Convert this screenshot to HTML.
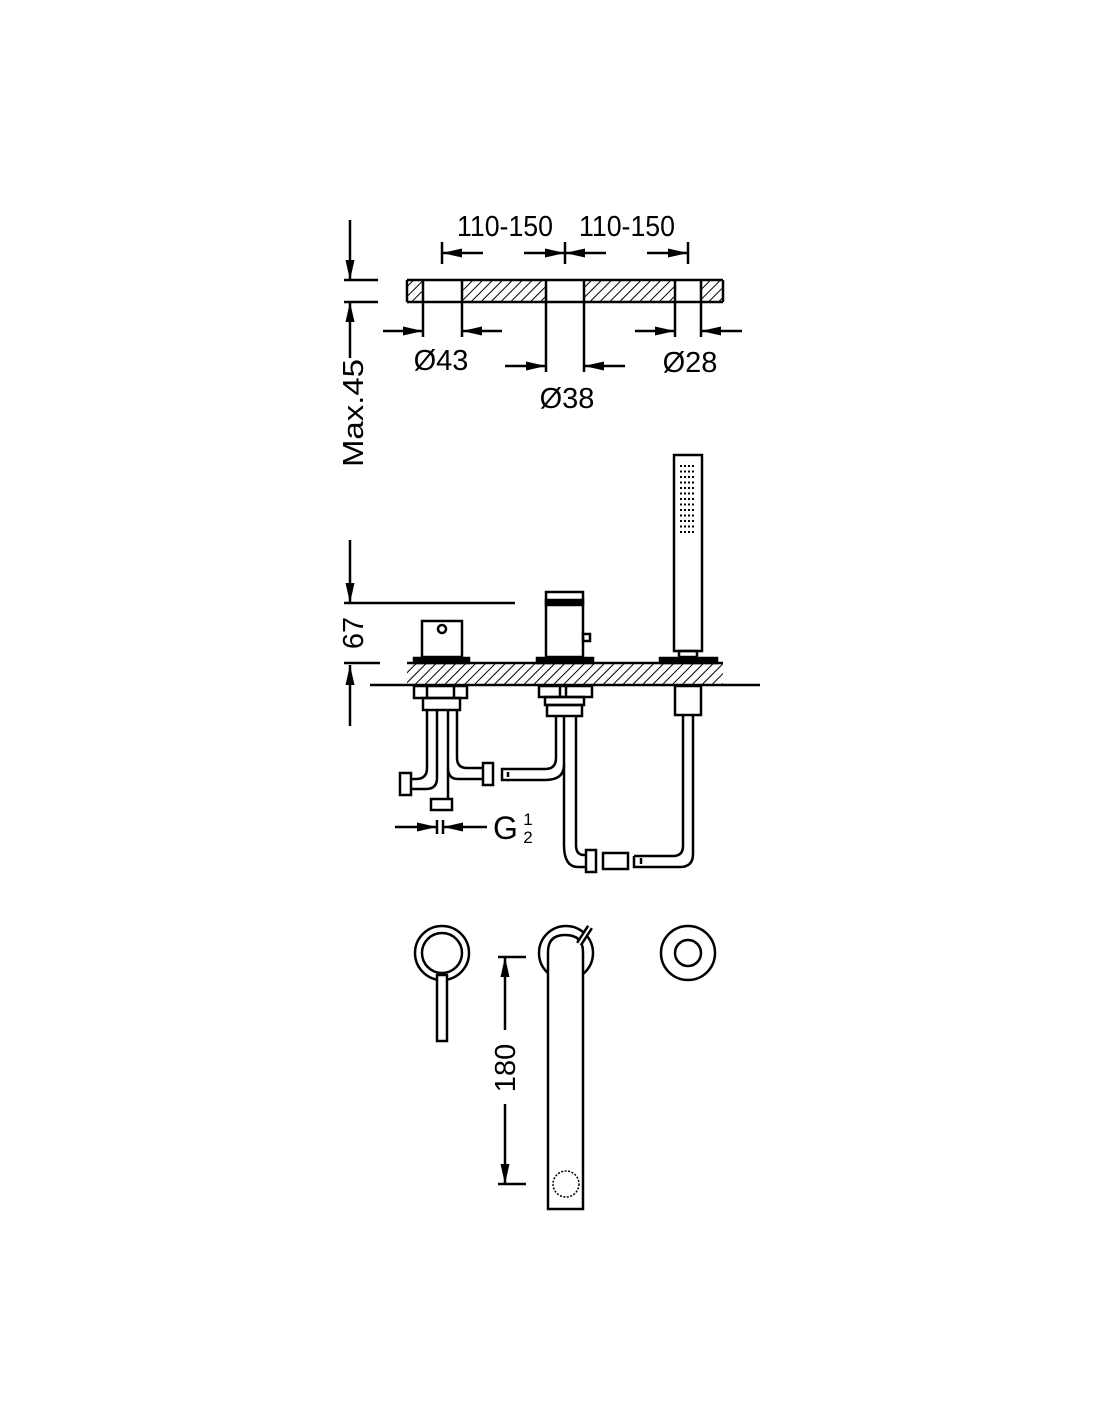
<!DOCTYPE html>
<html><head><meta charset="utf-8"><style>
html,body{margin:0;padding:0;background:#fff;}
svg{display:block;}
text{font-family:"Liberation Sans",sans-serif;fill:#000;}
</style></head><body>
<svg width="1100" height="1422" viewBox="0 0 1100 1422" xmlns="http://www.w3.org/2000/svg">
<defs>
<pattern id="h" patternUnits="userSpaceOnUse" width="7" height="7" patternTransform="rotate(45)">
<line x1="0" y1="0" x2="0" y2="7" stroke="#000" stroke-width="2"/>
</pattern>
<marker id="a" viewBox="0 0 20 10" refX="20" refY="5" markerWidth="20" markerHeight="10" markerUnits="userSpaceOnUse" orient="auto">
<path d="M0,0.5 L20,5 L0,9.5 z" fill="#000"/>
</marker>
</defs>
<g stroke="#000" stroke-width="2.5" fill="none">
<!-- TOP PLAN -->
<rect x="407" y="281" width="16" height="21" fill="url(#h)" stroke="none"/>
<rect x="462" y="281" width="84" height="21" fill="url(#h)" stroke="none"/>
<rect x="584" y="281" width="91" height="21" fill="url(#h)" stroke="none"/>
<rect x="701" y="281" width="22" height="21" fill="url(#h)" stroke="none"/>
<line x1="407" y1="280" x2="723" y2="280"/>
<line x1="407" y1="302" x2="723" y2="302"/>
<line x1="407" y1="280" x2="407" y2="302"/>
<line x1="723" y1="280" x2="723" y2="302"/>
<line x1="423" y1="280" x2="423" y2="337"/>
<line x1="462" y1="280" x2="462" y2="337"/>
<line x1="546" y1="280" x2="546" y2="372"/>
<line x1="584" y1="280" x2="584" y2="372"/>
<line x1="675" y1="280" x2="675" y2="337"/>
<line x1="701" y1="280" x2="701" y2="337"/>
<line x1="442" y1="242" x2="442" y2="264"/>
<line x1="565" y1="242" x2="565" y2="264"/>
<line x1="688" y1="242" x2="688" y2="264"/>
<line x1="483" y1="253" x2="442" y2="253" marker-end="url(#a)"/>
<line x1="524" y1="253" x2="565" y2="253" marker-end="url(#a)"/>
<line x1="606" y1="253" x2="565" y2="253" marker-end="url(#a)"/>
<line x1="647" y1="253" x2="688" y2="253" marker-end="url(#a)"/>
<line x1="383" y1="331" x2="423" y2="331" marker-end="url(#a)"/>
<line x1="502" y1="331" x2="462" y2="331" marker-end="url(#a)"/>
<line x1="505" y1="366" x2="546" y2="366" marker-end="url(#a)"/>
<line x1="625" y1="366" x2="584" y2="366" marker-end="url(#a)"/>
<line x1="635" y1="331" x2="675" y2="331" marker-end="url(#a)"/>
<line x1="742" y1="331" x2="701" y2="331" marker-end="url(#a)"/>
<!-- Max.45 -->
<line x1="350" y1="220" x2="350" y2="280" marker-end="url(#a)"/>
<line x1="344" y1="280" x2="378" y2="280"/>
<line x1="344" y1="302" x2="378" y2="302"/>
<line x1="350" y1="358" x2="350" y2="302" marker-end="url(#a)"/>
<!-- 67 -->
<line x1="350" y1="540" x2="350" y2="603" marker-end="url(#a)"/>
<line x1="344" y1="603" x2="515" y2="603"/>
<line x1="344" y1="663" x2="380" y2="663"/>
<line x1="350" y1="726" x2="350" y2="665" marker-end="url(#a)"/>
<!-- deck -->
<rect x="407" y="664" width="316" height="20" fill="url(#h)" stroke="none"/>
<line x1="407" y1="663" x2="723" y2="663"/>
<line x1="370" y1="685" x2="760" y2="685"/>
<!-- left thermostat -->
<rect x="422" y="621" width="40" height="36"/>
<circle cx="442" cy="629" r="4"/>
<rect x="414" y="658" width="55" height="5" fill="#000"/>
<rect x="414" y="686" width="53" height="12"/>
<line x1="427" y1="686" x2="427" y2="698"/><line x1="454" y1="686" x2="454" y2="698"/>
<rect x="423" y="698" width="37" height="12"/>
<path d="M427,710 V768 Q427,779 416,779 H411"/>
<path d="M437,710 V778 Q437,789 426,789 H411"/>
<path d="M448,710 V799"/>
<path d="M457,710 V758 Q457,768 467,768 H483"/>
<path d="M448,768 Q448,779 458,779 H483"/>
<rect x="400" y="773" width="11" height="22"/>
<rect x="431" y="799" width="21" height="11"/>
<rect x="483" y="763" width="10" height="22"/>
<!-- G 1/2 -->
<line x1="395" y1="827" x2="437" y2="827" marker-end="url(#a)"/>
<line x1="437" y1="820" x2="437" y2="834"/>
<line x1="443" y1="820" x2="443" y2="834"/>
<line x1="487" y1="827" x2="443" y2="827" marker-end="url(#a)"/>
<!-- middle mixer -->
<rect x="546" y="592" width="37" height="65"/>
<rect x="546" y="600" width="37" height="5" fill="#000"/>
<rect x="583" y="634" width="7" height="7"/>
<rect x="537" y="658" width="56" height="5" fill="#000"/>
<rect x="539" y="686" width="53" height="11"/>
<line x1="560" y1="686" x2="560" y2="697"/><line x1="566" y1="686" x2="566" y2="697"/>
<rect x="545" y="697" width="39" height="8"/>
<rect x="547" y="705" width="35" height="11"/>
<path d="M556,716 V758 Q556,769 545,769 H502 V780 H545 Q564,780 564,765 V716"/>
<line x1="508" y1="772" x2="508" y2="777"/>
<path d="M564,765 V845 Q564,867 578,867 H586"/>
<path d="M576,716 V845 Q576,855 584,855 H586"/>
<rect x="586" y="850" width="10" height="22"/>
<rect x="603" y="853" width="25" height="16"/>
<path d="M634,856 H673 Q683,856 683,846 V715"/>
<path d="M634,856 V867 H680 Q693,867 693,854 V715"/>
<line x1="641" y1="858" x2="641" y2="864"/>
<!-- hand shower -->
<rect x="674" y="455" width="28" height="196"/>
<rect x="679" y="651" width="18" height="6"/>
<rect x="660" y="658" width="57" height="5" fill="#000"/>
<rect x="675" y="686" width="26" height="29"/>
<!-- bottom views -->
<circle cx="442" cy="953" r="27"/>
<circle cx="442" cy="953" r="20"/>
<rect x="437" y="975" width="10" height="66" fill="#fff"/>
<circle cx="566" cy="953" r="27"/>
<path d="M548,1209 V952 Q548,935 565,935 Q583,935 583,952 V1209 Z" fill="#fff"/>
<line x1="579" y1="944" x2="590" y2="927" stroke-width="7"/>
<line x1="579" y1="944" x2="590" y2="927" stroke="#fff" stroke-width="2"/>
<circle cx="566" cy="1184" r="13" stroke-width="1.5" stroke-dasharray="2 1.5"/>
<circle cx="688" cy="953" r="27"/>
<circle cx="688" cy="953" r="13"/>
<!-- 180 -->
<line x1="498" y1="957" x2="526" y2="957"/>
<line x1="498" y1="1184" x2="526" y2="1184"/>
<line x1="505" y1="1030" x2="505" y2="957" marker-end="url(#a)"/>
<line x1="505" y1="1104" x2="505" y2="1184" marker-end="url(#a)"/>
</g>
<g fill="#000">
<rect x="680" y="465" width="2" height="2"/><rect x="684" y="465" width="2" height="2"/><rect x="688" y="465" width="2" height="2"/><rect x="692" y="465" width="2" height="2"/>
<rect x="680" y="470.5" width="2" height="2"/><rect x="684" y="470.5" width="2" height="2"/><rect x="688" y="470.5" width="2" height="2"/><rect x="692" y="470.5" width="2" height="2"/>
<rect x="680" y="476" width="2" height="2"/><rect x="684" y="476" width="2" height="2"/><rect x="688" y="476" width="2" height="2"/><rect x="692" y="476" width="2" height="2"/>
<rect x="680" y="481.5" width="2" height="2"/><rect x="684" y="481.5" width="2" height="2"/><rect x="688" y="481.5" width="2" height="2"/><rect x="692" y="481.5" width="2" height="2"/>
<rect x="680" y="487" width="2" height="2"/><rect x="684" y="487" width="2" height="2"/><rect x="688" y="487" width="2" height="2"/><rect x="692" y="487" width="2" height="2"/>
<rect x="680" y="492.5" width="2" height="2"/><rect x="684" y="492.5" width="2" height="2"/><rect x="688" y="492.5" width="2" height="2"/><rect x="692" y="492.5" width="2" height="2"/>
<rect x="680" y="498" width="2" height="2"/><rect x="684" y="498" width="2" height="2"/><rect x="688" y="498" width="2" height="2"/><rect x="692" y="498" width="2" height="2"/>
<rect x="680" y="503.5" width="2" height="2"/><rect x="684" y="503.5" width="2" height="2"/><rect x="688" y="503.5" width="2" height="2"/><rect x="692" y="503.5" width="2" height="2"/>
<rect x="680" y="509" width="2" height="2"/><rect x="684" y="509" width="2" height="2"/><rect x="688" y="509" width="2" height="2"/><rect x="692" y="509" width="2" height="2"/>
<rect x="680" y="514.5" width="2" height="2"/><rect x="684" y="514.5" width="2" height="2"/><rect x="688" y="514.5" width="2" height="2"/><rect x="692" y="514.5" width="2" height="2"/>
<rect x="680" y="520" width="2" height="2"/><rect x="684" y="520" width="2" height="2"/><rect x="688" y="520" width="2" height="2"/><rect x="692" y="520" width="2" height="2"/>
<rect x="680" y="525.5" width="2" height="2"/><rect x="684" y="525.5" width="2" height="2"/><rect x="688" y="525.5" width="2" height="2"/><rect x="692" y="525.5" width="2" height="2"/>
<rect x="680" y="531" width="2" height="2"/><rect x="684" y="531" width="2" height="2"/><rect x="688" y="531" width="2" height="2"/><rect x="692" y="531" width="2" height="2"/>
</g>
<g font-size="29">
<text x="505" y="236" text-anchor="middle" textLength="96" lengthAdjust="spacingAndGlyphs">110-150</text>
<text x="627" y="236" text-anchor="middle" textLength="96" lengthAdjust="spacingAndGlyphs">110-150</text>
<text x="441" y="370" text-anchor="middle">Ø43</text>
<text x="567" y="408" text-anchor="middle">Ø38</text>
<text x="690" y="372" text-anchor="middle">Ø28</text>
<text transform="translate(363,413) rotate(-90)" text-anchor="middle" textLength="108" lengthAdjust="spacingAndGlyphs">Max.45</text>
<text transform="translate(363,633) rotate(-90)" text-anchor="middle">67</text>
<text transform="translate(515,1068) rotate(-90)" text-anchor="middle">180</text>
<text x="493" y="839" font-size="32">G</text>
</g>
<text x="528" y="825" font-size="17" text-anchor="middle">1</text>
<text x="528" y="843" font-size="17" text-anchor="middle">2</text>
</svg>
</body></html>
